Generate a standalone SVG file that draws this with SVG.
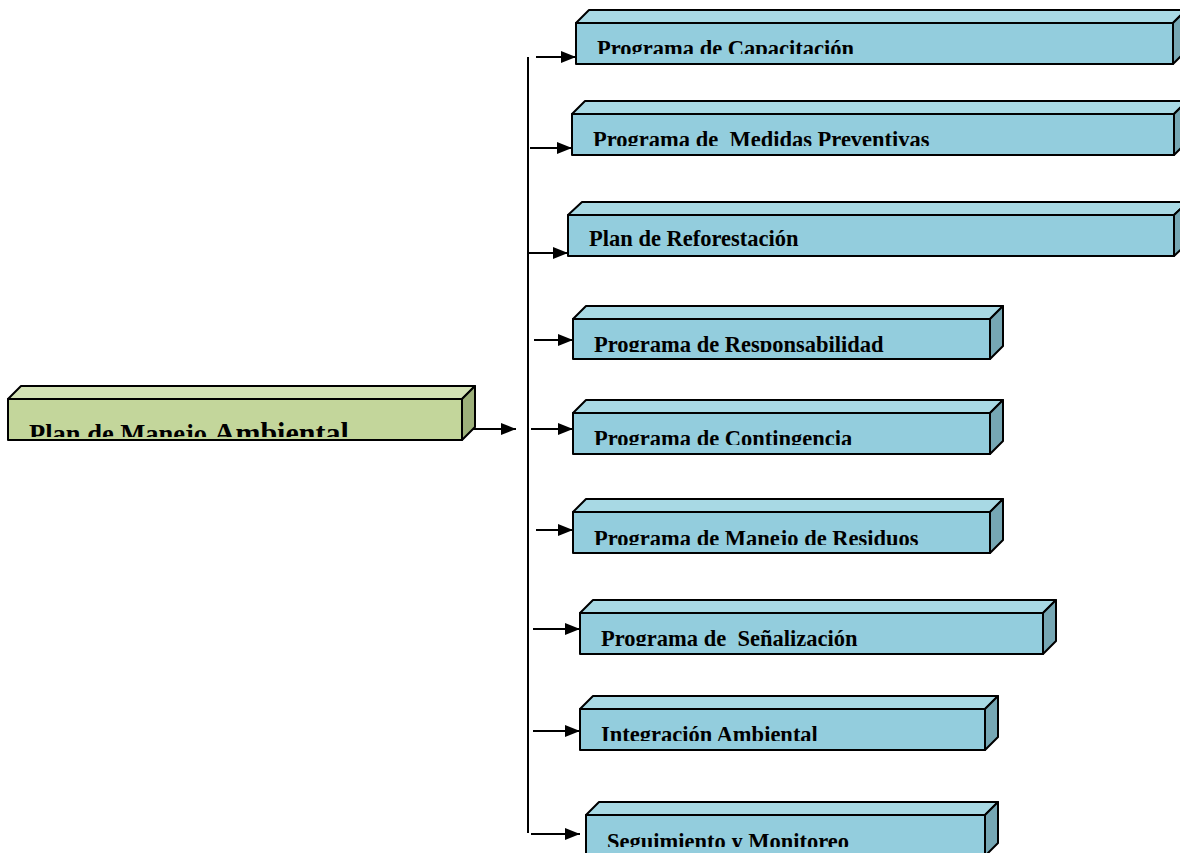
<svg xmlns="http://www.w3.org/2000/svg" width="1180" height="853" viewBox="0 0 1180 853">
<style>
.fb{fill:#93CDDD;stroke:#000;stroke-width:2;stroke-linejoin:round}
.tb{fill:#A8D9E4;stroke:#000;stroke-width:2;stroke-linejoin:round}
.sb{fill:#76A7B4;stroke:#000;stroke-width:2;stroke-linejoin:round}
.fg{fill:#C3D69B;stroke:#000;stroke-width:2;stroke-linejoin:round}
.tg{fill:#D3E2B5;stroke:#000;stroke-width:2;stroke-linejoin:round}
.sg{fill:#9DB07A;stroke:#000;stroke-width:2;stroke-linejoin:round}
.lbl{font-family:"Liberation Serif","Times New Roman",serif;font-weight:bold;font-size:22.5px;fill:#000;white-space:pre}
.ln{stroke:#000;stroke-width:2;fill:none}
</style>
<defs>
<marker id="ah" markerUnits="userSpaceOnUse" markerWidth="16" markerHeight="12" refX="15" refY="6" orient="auto">
<path d="M0,0 L15,6 L0,12 Z" fill="#000"/>
</marker>
<clipPath id="c0"><rect x="8" y="399" width="454" height="38"/></clipPath>
<clipPath id="c1"><rect x="576" y="23" width="597" height="31"/></clipPath>
<clipPath id="c2"><rect x="572" y="114" width="602" height="32"/></clipPath>
<clipPath id="c3"><rect x="568" y="215" width="606" height="33"/></clipPath>
<clipPath id="c4"><rect x="573" y="319" width="417" height="33"/></clipPath>
<clipPath id="c5"><rect x="573" y="413" width="417" height="32"/></clipPath>
<clipPath id="c6"><rect x="573" y="512" width="417" height="33"/></clipPath>
<clipPath id="c7"><rect x="580" y="613" width="463" height="33"/></clipPath>
<clipPath id="c8"><rect x="580" y="709" width="405" height="32"/></clipPath>
<clipPath id="c9"><rect x="586" y="815" width="399" height="32"/></clipPath>
</defs>

<g id="connectors">
<line class="ln" x1="528" y1="57" x2="528" y2="833"/>
<line class="ln" x1="463" y1="429" x2="516" y2="429" marker-end="url(#ah)"/>
<line class="ln" x1="536" y1="57" x2="576" y2="57" marker-end="url(#ah)"/>
<line class="ln" x1="530" y1="148" x2="572" y2="148" marker-end="url(#ah)"/>
<line class="ln" x1="527" y1="253" x2="568" y2="253" marker-end="url(#ah)"/>
<line class="ln" x1="534" y1="340" x2="573" y2="340" marker-end="url(#ah)"/>
<line class="ln" x1="531" y1="429" x2="573" y2="429" marker-end="url(#ah)"/>
<line class="ln" x1="536" y1="530" x2="573" y2="530" marker-end="url(#ah)"/>
<line class="ln" x1="533" y1="629" x2="580" y2="629" marker-end="url(#ah)"/>
<line class="ln" x1="533" y1="731" x2="580" y2="731" marker-end="url(#ah)"/>
<line class="ln" x1="531" y1="834" x2="580" y2="834" marker-end="url(#ah)"/>
</g>

<g id="plan-manejo">
<polygon class="tg" points="8,399 21,386 475,386 462,399"/>
<polygon class="sg" points="462,399 475,386 475,427 462,440"/>
<rect class="fg" x="8" y="399" width="454" height="41"/>
<text clip-path="url(#c0)" class="lbl" x="29" y="443" style="font-size:26.5px">Plan de Manejo <tspan style="font-size:30px">Ambiental</tspan></text>
</g>

<g id="capacitacion">
<polygon class="tb" points="576,23 589,10 1186,10 1173,23"/>
<polygon class="sb" points="1173,23 1186,10 1186,51 1173,64"/>
<rect class="fb" x="576" y="23" width="597" height="41"/>
<text clip-path="url(#c1)" class="lbl" x="597" y="56">Programa de Capacitación</text>
</g>

<g id="medidas">
<polygon class="tb" points="572,114 585,101 1187,101 1174,114"/>
<polygon class="sb" points="1174,114 1187,101 1187,142 1174,155"/>
<rect class="fb" x="572" y="114" width="602" height="41"/>
<text clip-path="url(#c2)" class="lbl" x="593" y="147">Programa de  Medidas Preventivas</text>
</g>

<g id="reforestacion">
<polygon class="tb" points="568,215 582,202 1188,202 1174,215"/>
<polygon class="sb" points="1174,215 1188,202 1188,243 1174,256"/>
<rect class="fb" x="568" y="215" width="606" height="41"/>
<text clip-path="url(#c3)" class="lbl" x="589" y="246">Plan de Reforestación</text>
</g>

<g id="responsabilidad">
<polygon class="tb" points="573,319 586,306 1003,306 990,319"/>
<polygon class="sb" points="990,319 1003,306 1003,346 990,359"/>
<rect class="fb" x="573" y="319" width="417" height="40"/>
<text clip-path="url(#c4)" class="lbl" x="594" y="352">Programa de Responsabilidad</text>
</g>

<g id="contingencia">
<polygon class="tb" points="573,413 586,400 1003,400 990,413"/>
<polygon class="sb" points="990,413 1003,400 1003,441 990,454"/>
<rect class="fb" x="573" y="413" width="417" height="41"/>
<text clip-path="url(#c5)" class="lbl" x="594" y="446">Programa de Contingencia</text>
</g>

<g id="residuos">
<polygon class="tb" points="573,512 586,499 1003,499 990,512"/>
<polygon class="sb" points="990,512 1003,499 1003,540 990,553"/>
<rect class="fb" x="573" y="512" width="417" height="41"/>
<text clip-path="url(#c6)" class="lbl" x="594" y="546">Programa de Manejo de Residuos</text>
</g>

<g id="senalizacion">
<polygon class="tb" points="580,613 593,600 1056,600 1043,613"/>
<polygon class="sb" points="1043,613 1056,600 1056,641 1043,654"/>
<rect class="fb" x="580" y="613" width="463" height="41"/>
<text clip-path="url(#c7)" class="lbl" x="601" y="646">Programa de  Señalización</text>
</g>

<g id="integracion">
<polygon class="tb" points="580,709 593,696 998,696 985,709"/>
<polygon class="sb" points="985,709 998,696 998,737 985,750"/>
<rect class="fb" x="580" y="709" width="405" height="41"/>
<text clip-path="url(#c8)" class="lbl" x="601" y="742">Integración Ambiental</text>
</g>

<g id="seguimiento">
<polygon class="tb" points="586,815 599,802 998,802 985,815"/>
<polygon class="sb" points="985,815 998,802 998,843 985,856"/>
<rect class="fb" x="586" y="815" width="399" height="41"/>
<text clip-path="url(#c9)" class="lbl" x="607" y="849">Seguimiento y Monitoreo</text>
</g>
</svg>
